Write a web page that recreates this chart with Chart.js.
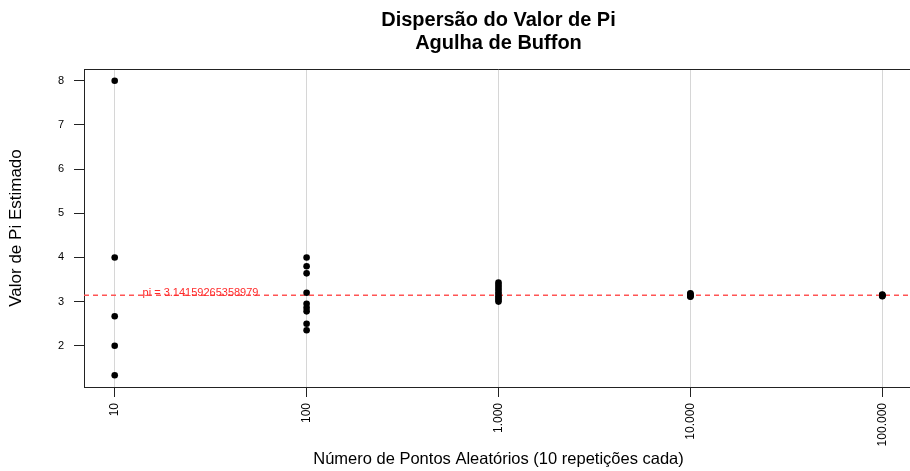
<!DOCTYPE html>
<html>
<head>
<meta charset="utf-8">
<script src="https://cdn.jsdelivr.net/npm/chart.js@4.4.1/dist/chart.umd.min.js"></script>
<style>
html, body { margin: 0; padding: 0; background: #fff; overflow: hidden; }
#wrap { width: 994px; height: 471px; }
</style>
</head>
<body>
<div id="wrap"><canvas id="chart" width="994" height="471"></canvas></div>
<script>
// Number of random points per experiment (x axis, log scale)
const xTicks = [10, 100, 1000, 10000, 100000];
const yTicks = [2, 3, 4, 5, 6, 7, 8];
// Pi estimates (overlapping points only once)
const est10 = [8, 4, 2.667, 2, 1.333];
const est100 = [4.0, 3.8, 3.64, 3.2, 2.95, 2.86, 2.78, 2.5, 2.35];
const est1000 = [3.43, 3.38, 3.33, 3.28, 3.22, 3.17, 3.12, 3.08, 3.04, 3.0];
const est10000 = [3.19, 3.17, 3.15, 3.14, 3.12, 3.11];
const est100000 = [3.16, 3.15, 3.14, 3.13, 3.12];
const PI_VAL = 3.14159265358979;
const piLabelX = 28;

// axis limits like R (4% extension)
const xMin = Math.pow(10, 0.84), xMax = Math.pow(10, 5.16);
const yMin = 1.0667, yMax = 8.2667;

const groups = [est10, est100, est1000, est10000, est100000];
const points = [];
groups.forEach((vals, i) => {
    vals.forEach(v => points.push({ x: xTicks[i], y: v }));
});

// 1000 -> 1.000
function fmt(v) {
    return String(v).replace(/\B(?=(\d{3})+(?!\d))/g, '.');
}

Chart.defaults.font.family = '"Liberation Sans", Arial, sans-serif';
Chart.defaults.color = '#000';

// box top border and the pi label
const extras = {
    id: 'extras',
    afterDatasetsDraw(chart) {
        const { ctx, chartArea: a, scales } = chart;
        ctx.save();
        ctx.strokeStyle = '#222';
        ctx.lineWidth = 1;
        ctx.beginPath();
        ctx.moveTo(a.left, a.top + 0.5);
        ctx.lineTo(a.right, a.top + 0.5);
        ctx.stroke();
        ctx.fillStyle = '#ff2a2a';
        ctx.font = '11px "Liberation Sans", Arial, sans-serif';
        ctx.textAlign = 'center';
        ctx.textBaseline = 'middle';
        ctx.fillText('pi = ' + PI_VAL, scales.x.getPixelForValue(piLabelX), scales.y.getPixelForValue(PI_VAL) - 2);
        ctx.restore();
    }
};

new Chart(document.getElementById('chart'), {
    type: 'scatter',
    data: {
        datasets: [
            {
                label: 'estimativas',
                data: points,
                pointRadius: 3.3,
                pointBackgroundColor: '#000',
                pointBorderWidth: 0
            },
            {
                type: 'line',
                label: 'pi',
                data: [{ x: xMin, y: PI_VAL }, { x: xMax, y: PI_VAL }],
                borderColor: '#ff5555',
                backgroundColor: '#ff5555',
                borderWidth: 1.5,
                borderDash: [5, 4],
                pointRadius: 0,
                fill: false
            }
        ]
    },
    options: {
        responsive: false,
        animation: false,
        devicePixelRatio: 1,
        layout: { padding: { right: 81 } },
        plugins: {
            legend: { display: false },
            tooltip: { enabled: false },
            title: {
                display: true,
                fullSize: false,
                text: ['Dispersão do Valor de Pi', 'Agulha de Buffon'],
                font: { size: 20, weight: 'bold', lineHeight: '23px' },
                color: '#000',
                padding: { top: 9, bottom: 14 }
            }
        },
        scales: {
            x: {
                type: 'logarithmic',
                min: xMin,
                max: xMax,
                afterBuildTicks: s => { s.ticks = xTicks.map(v => ({ value: v })); },
                afterFit: s => { s.height = 84; },
                ticks: {
                    minRotation: 90,
                    maxRotation: 90,
                    autoSkip: false,
                    font: { size: 12 },
                    padding: 6,
                    callback: v => fmt(v)
                },
                grid: { color: '#d6d6d6', lineWidth: 1, tickColor: '#222', tickLength: 10 },
                border: { color: '#222', width: 1 },
                title: {
                    display: true,
                    text: 'Número de Pontos Aleatórios (10 repetições cada)',
                    font: { size: 16.5 },
                    padding: { top: 0, bottom: 2 }
                }
            },
            y: {
                min: yMin,
                max: yMax,
                afterBuildTicks: s => { s.ticks = yTicks.map(v => ({ value: v })); },
                afterFit: s => { s.width = 84; },
                ticks: { font: { size: 11 }, padding: 10 },
                grid: { drawOnChartArea: false, tickColor: '#222', tickLength: 10 },
                border: { color: '#222', width: 1 },
                title: {
                    display: true,
                    text: 'Valor de Pi Estimado',
                    font: { size: 17 },
                    padding: { top: 6, bottom: 0 }
                }
            }
        }
    },
    plugins: [extras]
});
</script>
</body>
</html>
